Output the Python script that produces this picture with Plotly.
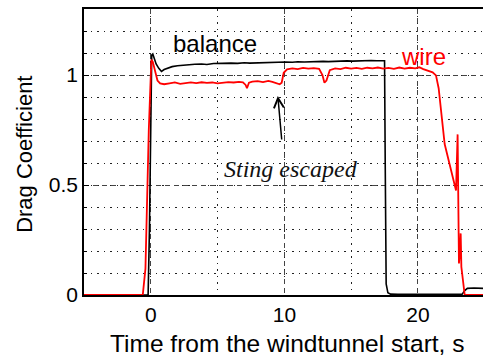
import plotly.graph_objects as go

# balance (black) series
bal_t = [-5, -0.2, -0.1, 0.0, 0.07, 0.15, 0.25, 0.4, 0.6, 0.8, 1.0, 1.3, 1.6, 2.0, 2.4, 2.9,
         3.3, 3.8, 4.2, 4.7, 5.1, 5.6, 6.0, 6.5, 7.0, 7.4, 7.9, 8.3, 8.8, 9.2, 9.7, 10.1,
         10.6, 11.0, 11.5, 12.0, 12.4, 12.9, 13.3, 13.8, 14.2, 14.7, 15.1, 15.6, 16.0, 16.5,
         16.9, 17.3, 17.5, 17.55, 17.62, 17.75, 17.95, 18.5, 20, 22, 23.3, 23.5, 23.7, 24.2, 25]
bal_v = [0, 0, 0.3, 0.8, 1.09, 1.095, 1.08, 1.05, 1.03, 1.016, 1.025, 1.032, 1.038, 1.042, 1.045, 1.046,
         1.049, 1.05, 1.048, 1.052, 1.053, 1.051, 1.054, 1.053, 1.056, 1.054, 1.055, 1.057, 1.056, 1.058, 1.057, 1.059,
         1.058, 1.06, 1.059, 1.061, 1.06, 1.062, 1.061, 1.063, 1.062, 1.064, 1.063, 1.065, 1.064, 1.066,
         1.065, 1.066, 1.065, 0.6, 0.05, 0.01, 0.004, 0.003, 0.003, 0.003, 0.003, 0.02, 0.03, 0.032, 0.03]

# wire (red) series
wire_t = [-5, -0.6, -0.4, -0.3, -0.15, 0.0, 0.05, 0.15, 0.3, 0.5, 0.7, 1.0, 1.4, 1.8, 2.2, 2.6,
          3.0, 3.4, 3.8, 4.2, 4.6, 5.0, 5.4, 5.8, 6.2, 6.6, 6.9, 7.1, 7.2, 7.35, 7.6, 8.0,
          8.4, 8.8, 9.1, 9.4, 9.65, 9.8, 9.95, 10.2, 10.6, 11.0, 11.4, 11.8, 12.2, 12.6, 12.85,
          13.0, 13.15, 13.4, 13.8, 14.2, 14.6, 15.0, 15.4, 15.8, 16.2, 16.6, 17.0, 17.4, 17.8,
          18.2, 18.6, 19.0, 19.4, 19.8, 20.1, 20.4, 20.8, 21.1, 21.35, 21.55, 22.0, 22.5, 22.85,
          22.97, 23.07, 23.15, 23.2, 23.25, 23.5, 23.6, 25]
wire_v = [0, 0, 0.12, 0.4, 0.75, 1.0, 1.07, 1.06, 1.02, 0.975, 0.962, 0.958, 0.962, 0.966, 0.96, 0.962,
          0.966, 0.963, 0.967, 0.964, 0.966, 0.962, 0.965, 0.968, 0.966, 0.969, 0.967, 0.955, 0.94, 0.965, 0.97, 0.972,
          0.968, 0.973, 0.969, 0.962, 0.958, 0.965, 1.01, 1.026, 1.03, 1.027, 1.032, 1.029, 1.031, 1.028, 1.0,
          0.965, 0.975, 1.022, 1.03, 1.027, 1.033, 1.029, 1.032, 1.028, 1.033, 1.03, 1.034, 1.029, 1.032,
          1.028, 1.034, 1.029, 1.033, 1.03, 1.035, 1.027, 1.02, 1.012, 0.998, 0.94, 0.686, 0.566, 0.475,
          0.73, 0.143, 0.2, 0.28, 0.128, 0.0, 0.0, 0.0]

x_ticks = [0, 10, 20]
y_ticks = [0, 0.5, 1]
y_tick_labels = ["0", "0.5", "1"]

fig = go.Figure()
fig.add_trace(go.Scatter(x=bal_t, y=bal_v, mode="lines", line=dict(color="black", width=1.6),
                         name="balance", showlegend=False))
fig.add_trace(go.Scatter(x=wire_t, y=wire_v, mode="lines", line=dict(color="red", width=1.8),
                         name="wire", showlegend=False))

font_family = "Liberation Sans, Arial, sans-serif"

fig.update_layout(
    width=483, height=358, autosize=False,
    margin=dict(l=84, r=0, t=9, b=63),
    paper_bgcolor="white", plot_bgcolor="white",
    font=dict(family=font_family, size=21, color="black"),
    xaxis=dict(range=[-5, 24.87], tickvals=x_ticks, ticktext=[str(v) for v in x_ticks],
               showgrid=True, gridcolor="#444", gridwidth=1, griddash="5px,4px",
               minor=dict(dtick=5, tick0=0, showgrid=True, gridcolor="#222", gridwidth=1,
                          griddash="1.5px,5px"),
               showline=True, linecolor="black", linewidth=1.5, mirror=True,
               ticks="", zeroline=False, tickfont=dict(size=21), fixedrange=True),
    yaxis=dict(range=[0, 1.3], tickvals=y_ticks, ticktext=y_tick_labels,
               showgrid=True, gridcolor="#444", gridwidth=1, griddash="5px,4px",
               minor=dict(dtick=0.1, tick0=0, showgrid=True, gridcolor="#222", gridwidth=1,
                          griddash="1.5px,5px", ticks="inside", ticklen=3, tickcolor="black"),
               showline=True, linecolor="black", linewidth=1.5, mirror=False,
               ticks="inside", ticklen=5, tickcolor="black",
               zeroline=False, tickfont=dict(size=21), fixedrange=True),
)

annotations = [
    dict(text="balance", x=4.8, y=1.145, xref="x", yref="y", showarrow=False,
         font=dict(family=font_family, size=24, color="black")),
    dict(text="wire", x=20.4, y=1.086, xref="x", yref="y", showarrow=False,
         font=dict(family=font_family, size=24, color="red")),
    dict(text="<i>Sting escaped</i>", x=10.5, y=0.575, xref="x", yref="y", showarrow=False,
         font=dict(family="Liberation Serif, Times New Roman, serif", size=24, color="#111")),
    dict(text="", x=9.51, y=0.905, ax=9.81, ay=0.70, xref="x", yref="y", axref="x", ayref="y",
         showarrow=True, arrowhead=5, arrowsize=1.3, arrowwidth=1.5, arrowcolor="black"),
    dict(text="Time from the windtunnel start, s", x=(287 - 84) / 399, y=(295 - 343) / 286,
         xref="paper", yref="paper", showarrow=False, xanchor="center", yanchor="middle",
         font=dict(family=font_family, size=24.5, color="black")),
    dict(text="Drag Coefficient", x=(25 - 84) / 399, y=0.49, textangle=-90,
         xref="paper", yref="paper", showarrow=False, xanchor="center", yanchor="middle",
         font=dict(family=font_family, size=22, color="black")),
]
fig.update_layout(annotations=annotations)

fig.write_html("out.html", config={"displayModeBar": False},
               post_script="document.body.style.margin='0px';")
